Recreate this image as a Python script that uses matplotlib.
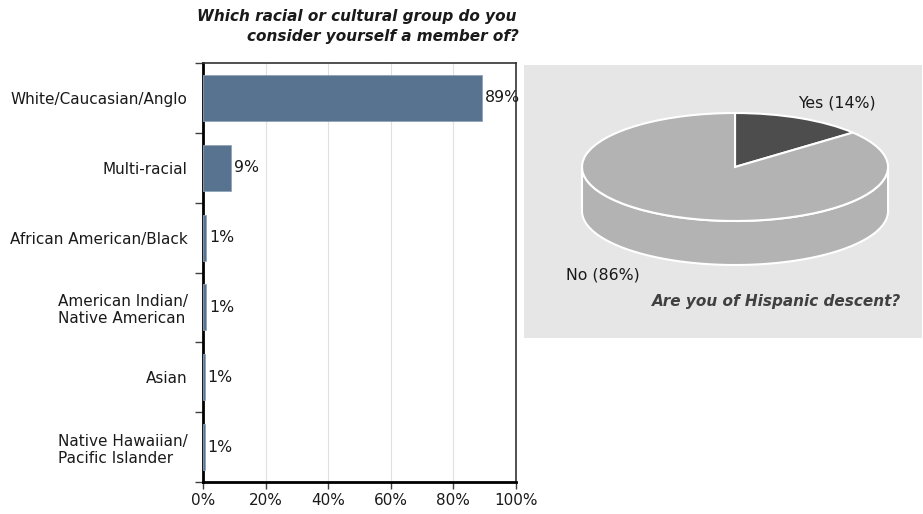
import numpy as np
import matplotlib
matplotlib.use("Agg")
import matplotlib.pyplot as plt

# bar chart data
groups = ["White/Caucasian/Anglo", "Multi-racial", "African American/Black",
          "American Indian/\nNative American", "Asian",
          "Native Hawaiian/\nPacific Islander"]
shares = [89, 9, 1, 1, 0.5, 0.5]
share_labels = ["89%", "9%", "1%", "1%", "1%", "1%"]
pct_ticks = [0, 20, 40, 60, 80, 100]

# pie data
hisp_names = ["Yes", "No"]
hisp_pct = [14, 86]

bar_color = "#57738f"
txt = "#1a1a1a"

fig = plt.figure(figsize=(9.23, 5.14), dpi=100)
fig.patch.set_facecolor("white")

## BAR CHART
ax = fig.add_axes([203 / 923, 32 / 514, 313 / 923, 419 / 514])
ypos = np.arange(len(groups))
ax.barh(ypos, shares, height=0.66, color=bar_color, edgecolor="#8fa3b8",
        linewidth=0.6, zorder=3)
for y, v, lab in zip(ypos, shares, share_labels):
    ax.text(v + 0.9, y, lab, va="center", ha="left", fontsize=11.3, color=txt)

ax.set_xlim(0, 100)
ax.set_ylim(len(groups) - 0.5, -0.5)
ax.set_xticks(pct_ticks)
ax.set_xticklabels([f"{p}%" for p in pct_ticks], fontsize=11, color=txt)
ax.set_yticks(ypos)
ax.set_yticklabels(groups, fontsize=11, color=txt)
for lab in ax.get_yticklabels():
    lab.set_multialignment("left")
ax.set_yticks(np.arange(-0.5, len(groups)), minor=True)
ax.tick_params(axis="y", which="major", length=0, pad=11)
ax.tick_params(axis="y", which="minor", length=6, width=1, color="#404040")
ax.tick_params(axis="x", length=5, width=1, color="#404040", pad=3)
ax.xaxis.grid(True, color="#e0e0e0", linewidth=0.8, zorder=0)
for s in ["left", "bottom"]:
    ax.spines[s].set_linewidth(2)
    ax.spines[s].set_color("black")
for s in ["top", "right"]:
    ax.spines[s].set_linewidth(1.2)
    ax.spines[s].set_color("#333333")

fig.text(197 / 923, 1 - 17 / 514, "Which racial or cultural group do you",
         fontsize=11, fontweight="bold", style="italic", ha="left", va="center",
         color=txt)
fig.text(247 / 923, 1 - 37 / 514, "consider yourself a member of?",
         fontsize=11, fontweight="bold", style="italic", ha="left", va="center",
         color=txt)

## 3D PIE
pax = fig.add_axes([524 / 923, 176 / 514, 398 / 923, 273 / 514])
depth = 0.815
t = np.linspace(np.pi, 2 * np.pi, 200)
sx = np.concatenate([np.cos(t), np.cos(t[::-1])])
sy = np.concatenate([np.sin(t), np.sin(t[::-1]) - depth])
pax.fill(sx, sy, color="#b3b3b3", edgecolor="white", linewidth=1.5, zorder=1)
pax.pie(hisp_pct, startangle=90, counterclock=False, frame=True,
        colors=["#4d4d4d", "#b3b3b3"],
        wedgeprops=dict(edgecolor="white", linewidth=1.5, zorder=2))
pax.set_aspect("auto")
pax.set_xlim(-1.379, 1.222)
pax.set_ylim(-3.167, 1.889)
pax.set_facecolor("#e6e6e6")
for s in pax.spines.values():
    s.set_visible(False)
pax.set_xticks([])
pax.set_yticks([])

pax.text(0.667, 1.185, f"{hisp_names[0]} ({hisp_pct[0]}%)", ha="center",
         va="center", fontsize=11.3, color=txt)
pax.text(-0.863, -2.0, f"{hisp_names[1]} ({hisp_pct[1]}%)", ha="center",
         va="center", fontsize=11.3, color=txt)
pax.text(0.275, -2.5, "Are you of Hispanic descent?", ha="center", va="center",
         fontsize=11, fontweight="bold", style="italic", color="#404040")

fig.savefig("out.png", dpi=100)
